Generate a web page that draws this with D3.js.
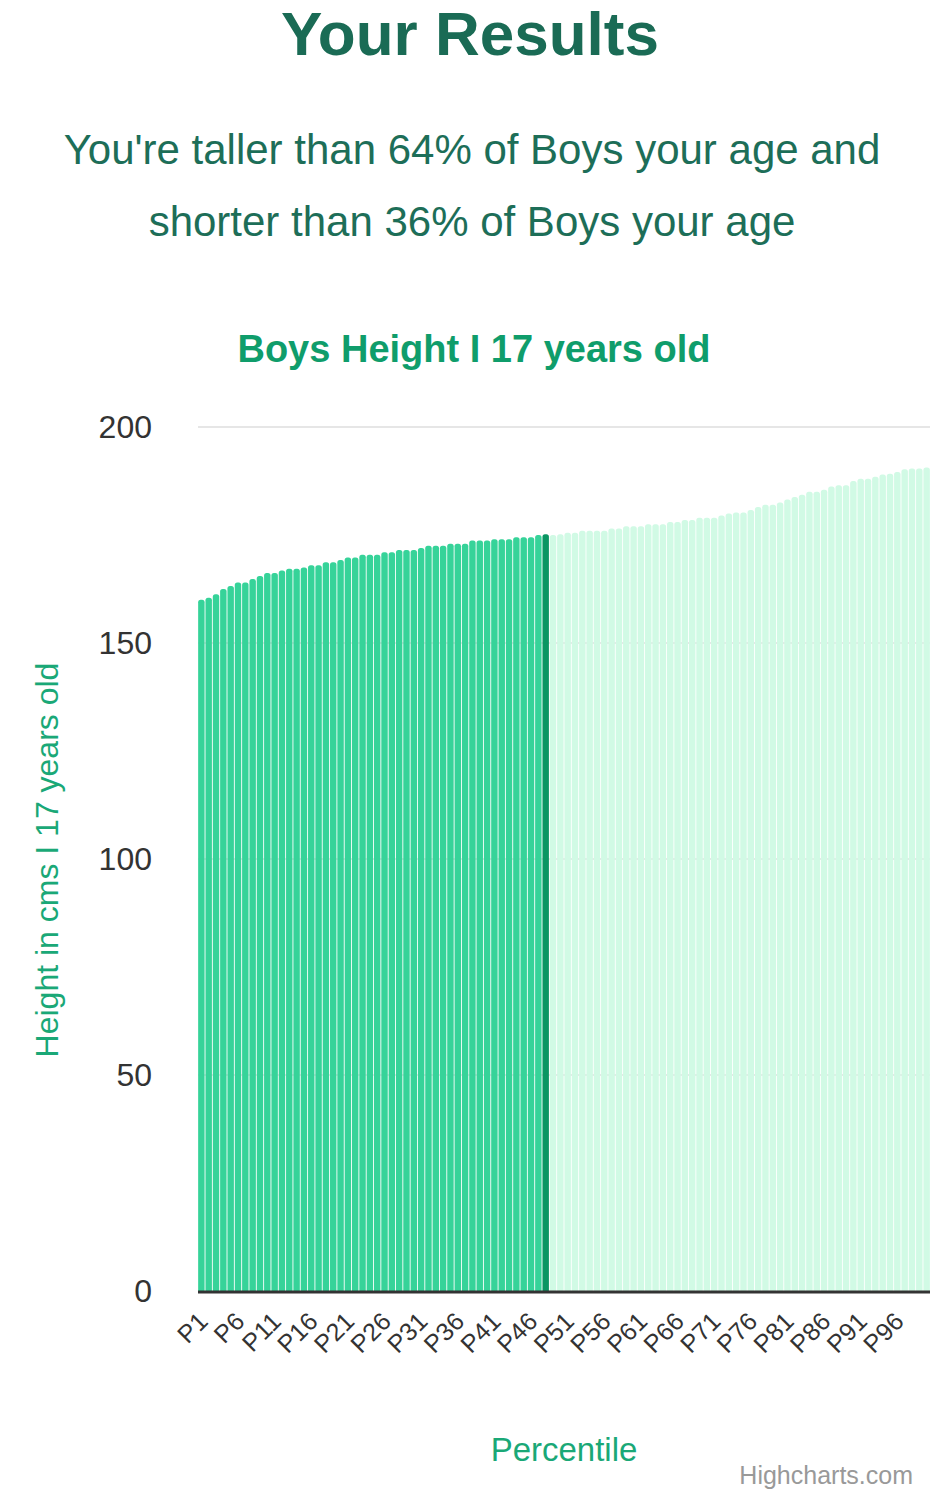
<!DOCTYPE html>
<html>
<head>
<meta charset="utf-8">
<script src="https://cdn.jsdelivr.net/npm/d3@7"></script>
<style>
body { margin: 0; background: #fff; font-family: "Liberation Sans", Arial, sans-serif; }
</style>
</head>
<body>
<script>
// percentile values
const heights = [
  160, 160.5, 161.3, 162.5, 163.2, 164, 164, 164.8, 165.5, 166.2,
  166.2, 166.8, 167.2, 167.2, 167.5, 168, 168, 168.7, 168.7, 169.2,
  169.8, 169.8, 170.4, 170.4, 170.4, 171, 171, 171.5, 171.5, 171.5,
  172, 172.5, 172.5, 172.5, 173, 173, 173, 173.7, 173.7, 173.7,
  174, 174, 174, 174.5, 174.5, 174.5, 175, 175.2,
  175, 175.2, 175.5, 175.5, 176, 176, 176, 176, 176.5, 176.5,
  177, 177, 177, 177.5, 177.5, 177.5, 178, 178, 178.5, 178.5,
  179, 179, 179, 179.5, 180, 180.2, 180.2, 180.8, 181.5, 182,
  182, 182.5, 183.2, 183.8, 184.3, 185, 185, 185.5, 186.2, 186.5,
  186.5, 187.5, 188, 188, 188.5, 189, 189.2, 189.6, 190.2, 190.4,
  190.4, 190.6
];
const percentiles = heights.map((d, i) => "P" + (i + 1));
const userPercentile = "P48";
const yTicks = [0, 50, 100, 150, 200];

const W = 948, H = 1500;
const svg = d3.select("body").append("svg").attr("width", W).attr("height", H);

svg.append("text").attr("x", 470).attr("y", 55).attr("text-anchor", "middle")
  .attr("font-size", 62).attr("font-weight", "bold").attr("fill", "#1a6b55").text("Your Results");
svg.append("text").attr("x", 472).attr("y", 164).attr("text-anchor", "middle")
  .attr("font-size", 42).attr("fill", "#1d6e58").text("You're taller than 64% of Boys your age and");
svg.append("text").attr("x", 472).attr("y", 236).attr("text-anchor", "middle")
  .attr("font-size", 42).attr("fill", "#1d6e58").text("shorter than 36% of Boys your age");
svg.append("text").attr("x", 474).attr("y", 362).attr("text-anchor", "middle")
  .attr("font-size", 38).attr("font-weight", "bold").attr("fill", "#0f9d6b").text("Boys Height I 17 years old");

const plotL = 198, plotR = 930, plotT = 427, plotB = 1291;
const x = d3.scaleBand().domain(percentiles).range([plotL, plotR]).paddingInner(0.12).paddingOuter(0.02);
const y = d3.scaleLinear().domain([0, 200]).range([plotB, plotT]);

// grid + y labels
svg.append("g").selectAll("line").data(yTicks.filter(d => d > 0)).join("line")
  .attr("x1", plotL).attr("x2", plotR).attr("y1", d => y(d)).attr("y2", d => y(d))
  .attr("stroke", "#e6e6e6").attr("stroke-width", 2);
svg.append("g").selectAll("text").data(yTicks).join("text")
  .attr("x", 152).attr("y", d => y(d) + 11).attr("text-anchor", "end")
  .attr("font-size", 32).attr("fill", "#333").text(d => d);

const idx = percentiles.indexOf(userPercentile);
const r = 2.5;
svg.append("g").selectAll("path").data(heights).join("path")
  .attr("d", (d, i) => {
    const x0 = x(percentiles[i]), w = x.bandwidth(), y0 = y(d);
    return `M${x0},${plotB}V${y0 + r}Q${x0},${y0} ${x0 + r},${y0}H${x0 + w - r}Q${x0 + w},${y0} ${x0 + w},${y0 + r}V${plotB}Z`;
  })
  .attr("fill", (d, i) => i < idx ? "#36d399" : i === idx ? "#0a9663" : "#d1fae5");

svg.append("line").attr("x1", plotL).attr("x2", plotR).attr("y1", plotB + 1).attr("y2", plotB + 1)
  .attr("stroke", "#333").attr("stroke-width", 3);

// x labels every 5th
svg.append("g").selectAll("text").data(percentiles.filter((d, i) => i % 5 === 0)).join("text")
  .attr("transform", d => `translate(${x(d) + x.bandwidth() / 2 + 8},${plotB + 32}) rotate(-45)`)
  .attr("text-anchor", "end").attr("font-size", 25).attr("fill", "#333").text(d => d);

svg.append("text").attr("transform", `translate(58,860) rotate(-90)`).attr("text-anchor", "middle")
  .attr("font-size", 32).attr("fill", "#1aa877").text("Height in cms I 17 years old");
svg.append("text").attr("x", 564).attr("y", 1461).attr("text-anchor", "middle")
  .attr("font-size", 33).attr("fill", "#1aa877").text("Percentile");
svg.append("text").attr("x", 913).attr("y", 1484).attr("text-anchor", "end")
  .attr("font-size", 25).attr("fill", "#999").text("Highcharts.com");
</script>
</body>
</html>
